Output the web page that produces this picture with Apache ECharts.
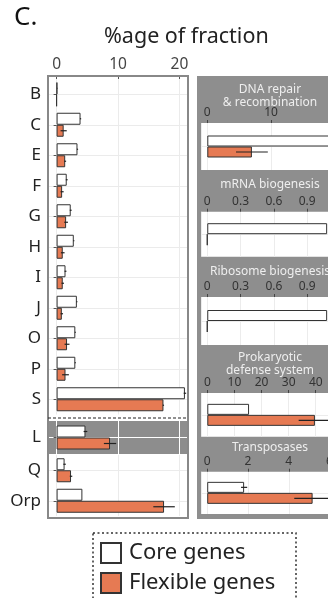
<!DOCTYPE html>
<html>
<head>
<meta charset="utf-8">
<script src="https://cdn.jsdelivr.net/npm/echarts@6/dist/echarts.min.js"></script>
<style>
html,body{margin:0;padding:0;background:#fff;}
#main{width:328px;height:598px;}
</style>
</head>
<body>
<div id="main"></div>
<script>
/*
* COG 类别 + 功能分组 条形图
* */
// 左侧主面板 (B..S)
var mainCats = ['B', 'C', 'E', 'F', 'G', 'H', 'I', 'J', 'O', 'P', 'S'];
var mainCore = [0.1, 3.9, 3.4, 1.65, 2.3, 2.8, 1.45, 3.3, 3.05, 3.05, 20.9];
var mainCoreErr = [0.05, 0.1, 0.1, 0.15, 0.15, 0.1, 0.15, 0.1, 0.1, 0.1, 0.2];
var mainFlex = [0, 1.15, 1.4, 0.9, 1.55, 1.0, 1.0, 0.85, 1.7, 1.45, 17.4];
var mainFlexErr = [0, 0.5, 0.15, 0.25, 0.3, 0.3, 0.2, 0.2, 0.4, 0.55, 0.1];
// 高亮的 L
var hlCats = ['L'];
var hlCore = [4.7];
var hlCoreErr = [0.3];
var hlFlex = [8.7];
var hlFlexErr = [1.0];
// Q, Orp
var restCats = ['Q', 'Orp'];
var restCore = [1.3, 4.2];
var restCoreErr = [0.2, 0];
var restFlex = [2.35, 17.5];
var restFlexErr = [0.2, 1.75];
// 右侧功能分组
var funcNames = ['DNA repair\n& recombination', 'mRNA biogenesis', 'Ribosome biogenesis', 'Prokaryotic\ndefense system', 'Transposases'];
var funcCore = [20, 1.08, 1.08, 15.4, 1.81];
var funcCoreErr = [0, 0, 0, 0, 0.15];
var funcFlex = [7.0, 0, 0, 39.7, 5.17];
var funcFlexErr = [2.5, 0, 0, 6, 0.9];
// 坐标轴范围
var mainRange = [-1.4, 21.4];
var funcMin = [-0.88, -0.05, -0.05, -2.07, -0.27];
var funcMax = [20.47, 1.175, 1.175, 48.1, 6.4];
var funcSplit = [2, 4, 4, 5, 3];

var FONT = '"Noto Sans", "DejaVu Sans", sans-serif';
var ORANGE = '#e67a53';
var MAIN_BAR = 12, FUNC_BAR = 11;

var chart = echarts.init(document.getElementById('main'));

var grids = [
    {left: 48, top: 79, width: 140, height: 335.5, outerBoundsMode: 'none'},
    {left: 48, top: 421, width: 140, height: 33, show: true, backgroundColor: '#8d8d8d', borderWidth: 0, outerBoundsMode: 'none'},
    {left: 48, top: 455, width: 140, height: 61, outerBoundsMode: 'none'}
];
var funcTop = [123, 211.7, 297, 393, 471.7];
var funcH = [47, 45, 48, 43.7, 42.3];
for (var k = 0; k < funcTop.length; k++) {
    grids.push({left: 201.7, top: funcTop[k], width: 136, height: funcH[k], show: true, backgroundColor: '#fff',
        borderWidth: 0, outerBoundsMode: 'none'});
}

var xAxes = [], yAxes = [], series = [];

function mainX(gi, showLabel, lineColor) {
    return {
        type: 'value', gridIndex: gi, position: 'top', min: mainRange[0], max: mainRange[1], splitNumber: 2,
        axisLine: {show: false},
        axisTick: {show: showLabel, length: 3, lineStyle: {color: '#555'}},
        axisLabel: {show: showLabel, fontSize: 15.5, color: '#444', margin: 6, fontFamily: FONT, showMinLabel: false, showMaxLabel: false},
        splitLine: {show: true, lineStyle: {color: lineColor, width: 1}}
    };
}
function mainY(gi, cats, lineColor) {
    return {
        type: 'category', gridIndex: gi, data: cats, inverse: true,
        axisLine: {show: false},
        axisTick: {show: true, length: 3, alignWithLabel: true, lineStyle: {color: '#555'}},
        axisLabel: {fontSize: 17, color: '#222', margin: 7, fontFamily: FONT},
        splitLine: {show: true, alignWithLabel: true, lineStyle: {color: lineColor, width: 1}}
    };
}
// 误差线
function errSeries(gi, vals, errs, sign, barW) {
    var data = [];
    for (var i = 0; i < vals.length; i++) {
        data.push([vals[i], i, errs[i]]);
    }
    return {
        type: 'custom', xAxisIndex: gi, yAxisIndex: gi, silent: true, z: 5,
        encode: {x: 0, y: 1},
        data: data,
        renderItem: function (params, api) {
            var e = api.value(2);
            if (!e) return null;
            var p1 = api.coord([api.value(0) - e, api.value(1)]);
            var p2 = api.coord([api.value(0) + e, api.value(1)]);
            var y = p1[1] + sign * barW / 2;
            return {type: 'line', shape: {x1: p1[0], y1: y, x2: p2[0], y2: y}, style: {stroke: '#222', lineWidth: 1.2}};
        }
    };
}
function barPair(gi, core, flex, barW) {
    return [
        {name: 'Core genes', type: 'bar', xAxisIndex: gi, yAxisIndex: gi, data: core, barWidth: barW, barGap: '0%',
            itemStyle: {color: '#fff', borderColor: '#333', borderWidth: 1}},
        {name: 'Flexible genes', type: 'bar', xAxisIndex: gi, yAxisIndex: gi, data: flex, barWidth: barW, barGap: '0%',
            itemStyle: {color: ORANGE, borderColor: '#333', borderWidth: 1}}
    ];
}

var panels = [
    [mainCats, mainCore, mainCoreErr, mainFlex, mainFlexErr, '#ebebeb'],
    [hlCats, hlCore, hlCoreErr, hlFlex, hlFlexErr, '#ffffff'],
    [restCats, restCore, restCoreErr, restFlex, restFlexErr, '#ebebeb']
];
for (var p = 0; p < panels.length; p++) {
    var pn = panels[p];
    xAxes.push(mainX(p, p === 0, pn[5]));
    yAxes.push(mainY(p, pn[0], pn[5]));
    series = series.concat(barPair(p, pn[1], pn[3], MAIN_BAR));
    series.push(errSeries(p, pn[1], pn[2], -1, MAIN_BAR));
    series.push(errSeries(p, pn[3], pn[4], 1, MAIN_BAR));
}

// 右侧小面板
for (var j = 0; j < funcNames.length; j++) {
    var gi = 3 + j;
    xAxes.push({
        type: 'value', gridIndex: gi, position: 'top', min: funcMin[j], max: funcMax[j], splitNumber: funcSplit[j],
        axisLine: {show: false},
        axisTick: {show: true, length: 3, lineStyle: {color: '#444'}},
        axisLabel: {fontSize: 12, color: '#333', margin: 4, fontFamily: FONT, showMinLabel: false, showMaxLabel: false},
        splitLine: {show: true, lineStyle: {color: '#ececec'}}
    });
    yAxes.push({
        type: 'category', gridIndex: gi, data: [funcNames[j]], inverse: true,
        axisLine: {show: false}, axisTick: {show: false}, axisLabel: {show: false},
        splitLine: {show: true, alignWithLabel: true, lineStyle: {color: '#ececec'}}
    });
    series = series.concat(barPair(gi, [funcCore[j]], [funcFlex[j]], FUNC_BAR));
    series.push(errSeries(gi, [funcCore[j]], [funcCoreErr[j]], -1, FUNC_BAR));
    series.push(errSeries(gi, [funcFlex[j]], [funcFlexErr[j]], 1, FUNC_BAR));
}

// 分面标题位置
var stripY = [96, 185, 271.7, 363.7, 448];
var graphics = [
    {type: 'rect', z: -10, shape: {x: 197, y: 76, width: 150, height: 443}, style: {fill: '#8e8e8e'}},
    {type: 'rect', z: 20, shape: {x: 48, y: 76, width: 140, height: 442}, style: {fill: 'none', stroke: '#888', lineWidth: 2}},
    {type: 'line', z: 20, shape: {x1: 48, y1: 418, x2: 188, y2: 418}, style: {stroke: '#222', lineWidth: 1.2, lineDash: [3, 2]}},
    {type: 'rect', z: 20, shape: {x: 93, y: 533, width: 203, height: 120}, style: {fill: 'none', stroke: '#333', lineWidth: 1.5, lineDash: [2, 2.5]}}
];
for (var s = 0; s < funcNames.length; s++) {
    graphics.push({
        type: 'text', z: 20, x: 270, y: stripY[s],
        style: {text: funcNames[s], font: '12px ' + FONT, fill: '#eeeeee', align: 'center', verticalAlign: 'middle',
            textAlign: 'center', textVerticalAlign: 'middle', lineHeight: 13}
    });
}

var option = {
    animation: false,
    textStyle: {fontFamily: FONT},
    title: [
        {text: 'C.', left: 14, top: 5, padding: 0, textStyle: {fontSize: 26, fontWeight: 'normal', color: '#111', fontFamily: FONT}},
        {text: '%age of fraction', left: 104, top: 26, padding: 0, textStyle: {fontSize: 21.5, fontWeight: 'normal', color: '#222', fontFamily: FONT}}
    ],
    legend: {
        data: ['Core genes', 'Flexible genes'], orient: 'vertical', left: 100, top: 542, padding: 0,
        itemWidth: 20, itemHeight: 20, itemGap: 8, icon: 'rect', selectedMode: false,
        textStyle: {fontSize: 22, color: '#222', fontFamily: FONT, padding: [0, 0, 0, 3]}
    },
    grid: grids,
    xAxis: xAxes,
    yAxis: yAxes,
    series: series,
    graphic: graphics
};
chart.setOption(option);
</script>
</body>
</html>
